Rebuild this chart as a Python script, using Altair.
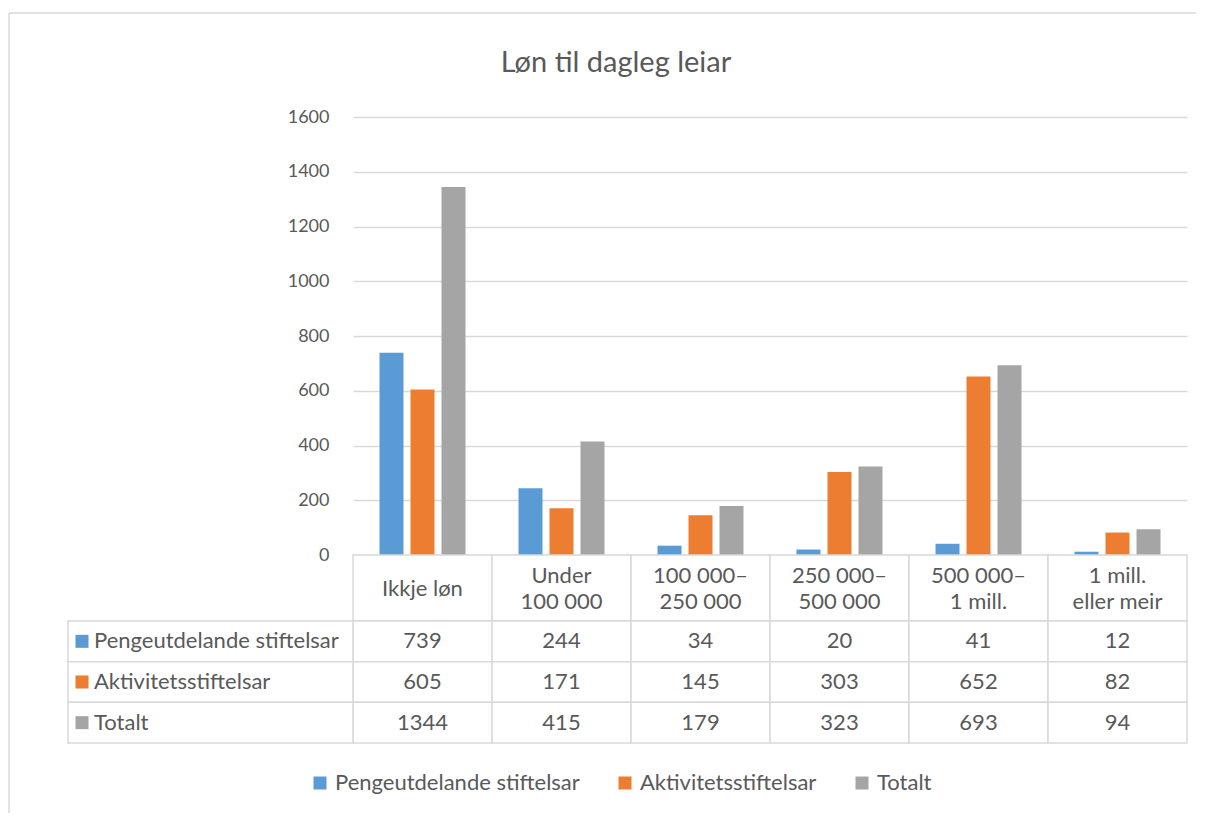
import altair as alt
import pandas as pd

title_text = "Løn til dagleg leiar"
categories = ["Ikkje løn", "Under 100 000", "100 000–250 000", "250 000–500 000", "500 000–1 mill.", "1 mill. eller meir"]
header_labels = ["Ikkje løn", "Under\n100 000", "100 000–\n250 000", "250 000–\n500 000", "500 000–\n1 mill.", "1 mill.\neller meir"]
series = ["Pengeutdelande stiftelsar", "Aktivitetsstiftelsar", "Totalt"]
colors = ["#5B9BD5", "#ED7D31", "#A5A5A5"]
pengeutdelande = [739, 244, 34, 20, 41, 12]
aktivitet = [605, 171, 145, 303, 652, 82]
totalt = [1344, 415, 179, 323, 693, 94]
y_ticks = [0, 200, 400, 600, 800, 1000, 1200, 1400, 1600]

rows = []
for s, c, vals in zip(series, colors, [pengeutdelande, aktivitet, totalt]):
    for cat, v in zip(categories, vals):
        rows.append({"cat": cat, "series": s, "value": v, "col": c})
df = pd.DataFrame(rows)
hdr = pd.DataFrame({"cat": categories, "label": header_labels,
                    "lines": [lbl.count("\n") + 1 for lbl in header_labels]})
ser = pd.DataFrame({"series": series, "col": colors})

TXT = "#595959"
GRID = "#d9d9d9"
FONT = "Lato"
FS = 22
W = 834

xscale = alt.Scale(paddingInner=0, paddingOuter=0)

bars = alt.Chart(df).mark_bar().encode(
    x=alt.X("cat:N", sort=categories, scale=xscale, axis=None),
    xOffset=alt.XOffset("series:N", sort=series,
                        scale=alt.Scale(paddingInner=0.226, paddingOuter=0.855)),
    y=alt.Y("value:Q", scale=alt.Scale(domain=[0, 1600]),
            axis=alt.Axis(values=y_ticks, format="d", grid=True, gridColor=GRID, gridWidth=1.5,
                          domain=False, ticks=False, labelPadding=24, labelFontSize=18,
                          labelColor=TXT, title=None)),
    color=alt.Color("series:N", sort=series,
                    scale=alt.Scale(domain=series, range=colors),
                    legend=alt.Legend(orient="none", legendX=-44, legendY=655,
                                      direction="horizontal", title=None,
                                      symbolType="square", symbolSize=169,
                                      symbolStrokeWidth=0, symbolOpacity=1,
                                      labelFontSize=FS, labelColor=TXT, labelLimit=500,
                                      columnPadding=34, labelOffset=4, padding=0)),
)

title_df = pd.DataFrame({"t": [title_text]})
title = alt.Chart(title_df).mark_text(fontSize=29, color=TXT, baseline="middle").encode(
    text="t:N", x=alt.value(263), y=alt.value(-54))

one = pd.DataFrame({"a": [0]})
border_top = alt.Chart(one).mark_rule(color=GRID, strokeWidth=1.5).encode(
    x=alt.value(-344), x2=alt.value(843), y=alt.value(-104))
border_left = alt.Chart(one).mark_rule(color=GRID, strokeWidth=1.5).encode(
    x=alt.value(-344), y=alt.value(-104), y2=alt.value(696))

top = alt.layer(border_top, border_left, bars, title).properties(width=W, height=438)

hx = alt.X("cat:N", sort=categories, scale=xscale, axis=None)
hrect = alt.Chart(hdr).mark_rect(fill="white", stroke=GRID, strokeWidth=1.5).encode(
    x=hx, y=alt.value(0), y2=alt.value(66))
htext1 = alt.Chart(hdr).transform_filter("datum.lines == 1").mark_text(
    fontSize=FS, color=TXT, baseline="middle").encode(
    x=hx, y=alt.value(34), text="label:N")
htext2 = alt.Chart(hdr).transform_filter("datum.lines == 2").mark_text(
    fontSize=FS, color=TXT, baseline="middle", lineBreak="\n", lineHeight=26).encode(
    x=hx, y=alt.value(21), text="label:N")
header = alt.layer(hrect, htext1, htext2).properties(width=W, height=66)

ty = alt.Y("series:N", sort=series, scale=alt.Scale(paddingInner=0, paddingOuter=0), axis=None)
trect = alt.Chart(df).mark_rect(fill="white", stroke=GRID, strokeWidth=1.5).encode(x=hx, y=ty)
ttext = alt.Chart(df).mark_text(fontSize=FS, color=TXT, baseline="middle").encode(
    x=hx, y=ty, text="value:Q")
lrect = alt.Chart(ser).mark_rect(fill="white", stroke=GRID, strokeWidth=1.5).encode(
    x=alt.value(-285), x2=alt.value(0), y=ty)
lsq = alt.Chart(ser).mark_square(size=169, opacity=1).encode(
    x=alt.value(-271), y=ty, color=alt.Color("col:N", scale=None))
ltext = alt.Chart(ser).mark_text(fontSize=FS, color=TXT, align="left", baseline="middle").encode(
    x=alt.value(-259), y=ty, text="series:N")
table = alt.layer(trect, ttext, lrect, lsq, ltext).properties(width=W, height=122)

chart = alt.vconcat(top, header, table, spacing=0, bounds="flush").properties(
    padding={"left": 0, "top": 4, "right": 0, "bottom": 0}
).configure(font=FONT).configure_view(strokeWidth=0)

chart.save("out.html", embed_options={"renderer": "svg", "actions": False})
